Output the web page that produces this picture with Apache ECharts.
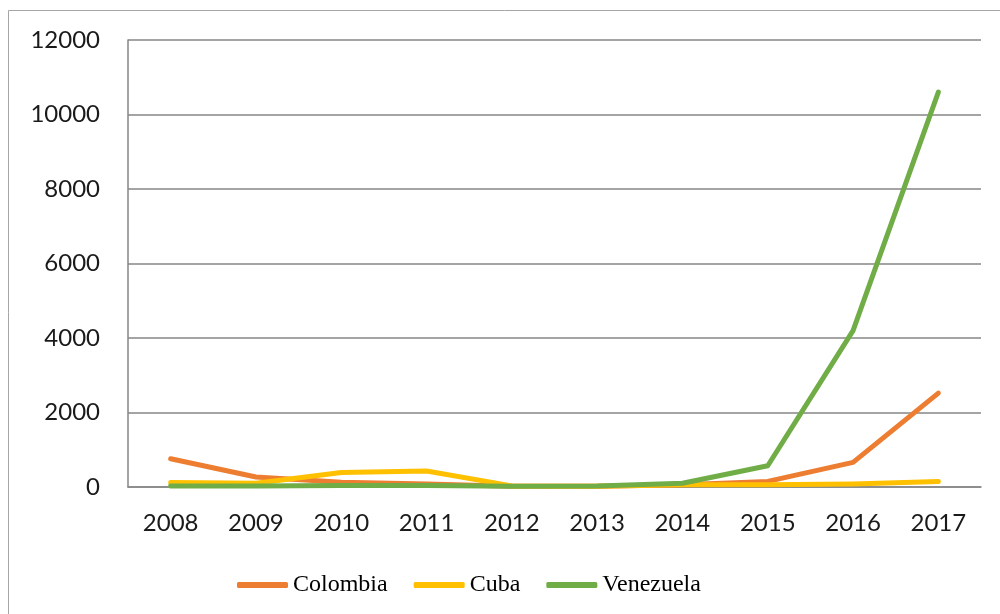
<!DOCTYPE html>
<html>
<head>
<meta charset="utf-8">
<script src="https://cdn.jsdelivr.net/npm/echarts@6/dist/echarts.min.js"></script>
<style>
html,body{margin:0;padding:0;background:#fff;}
#chart{width:1000px;height:614px;}
</style>
</head>
<body>
<div id="chart"></div>
<script>
const years = ['2008','2009','2010','2011','2012','2013','2014','2015','2016','2017'];
const colombia = [760, 270, 130, 80, 20, 20, 60, 150, 660, 2520];
const cuba = [120, 100, 390, 430, 30, 20, 60, 60, 80, 150];
const venezuela = [30, 30, 40, 40, 20, 30, 100, 570, 4200, 10600];
const yTicks = { min: 0, max: 12000, interval: 2000 };

const chart = echarts.init(document.getElementById('chart'), null, { renderer: 'canvas' });
const lineStyle = (c) => ({ color: c, width: 5, cap: 'round', join: 'round' });
chart.setOption({
  animation: false,
  backgroundColor: '#ffffff',
  graphic: [{
    type: 'rect', silent: true,
    shape: { x: 8.5, y: 10.5, width: 1000, height: 700 },
    style: { fill: 'none', stroke: '#a6a6a6', lineWidth: 1 }
  }],
  grid: { left: 128, right: 19, top: 40, bottom: 127, containLabel: false },
  xAxis: {
    type: 'category', data: years, boundaryGap: true,
    axisLine: { show: true, lineStyle: { color: '#868686', width: 1.5 } },
    axisTick: { show: false },
    axisLabel: { color: '#1a1a1a', fontFamily: 'Lato', fontSize: 24, margin: 24 },
    splitLine: { show: false }
  },
  yAxis: {
    type: 'value', min: yTicks.min, max: yTicks.max, interval: yTicks.interval,
    axisLine: { show: true, lineStyle: { color: '#868686', width: 1.5 } },
    axisTick: { show: false },
    axisLabel: { color: '#1a1a1a', fontFamily: 'Lato', fontSize: 24, margin: 28, formatter: (v) => String(v) },
    splitLine: { show: true, lineStyle: { color: '#868686', width: 1.5 } }
  },
  legend: {
    top: 568, left: 232,
    itemWidth: 51, itemHeight: 6, itemGap: 26,
    icon: 'roundRect',
    textStyle: { fontFamily: 'Liberation Serif', fontSize: 24, color: '#000' },
    data: ['Colombia', 'Cuba', 'Venezuela']
  },
  series: [
    { name: 'Colombia', type: 'line', data: colombia, showSymbol: false, symbol: 'none', color: '#ED7D31', lineStyle: lineStyle('#ED7D31') },
    { name: 'Cuba', type: 'line', data: cuba, showSymbol: false, symbol: 'none', color: '#FFC000', lineStyle: lineStyle('#FFC000') },
    { name: 'Venezuela', type: 'line', data: venezuela, showSymbol: false, symbol: 'none', color: '#70AD47', lineStyle: lineStyle('#70AD47') }
  ]
});
</script>
</body>
</html>
